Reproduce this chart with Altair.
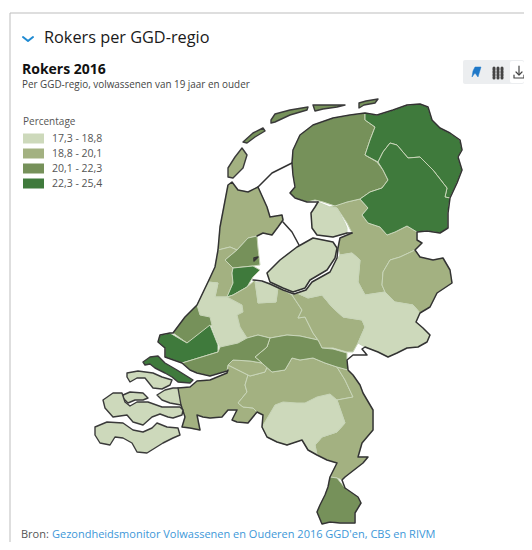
import altair as alt

# Region table: picture-derived outlines, one small list per GGD region
KLASSEN = ["17,3 - 18,8", "18,8 - 20,1", "20,1 - 22,3", "22,3 - 25,4"]
KLEUREN = ["#cdd9bb", "#a3b181", "#76915a", "#3f7a3c"]

friesland = [(292,163),(293,150),(300,135),(313,125),(333,118),(350,115),(365,113),(365,120),(375,127),(370,140),(365,155),(377,162),(383,170),(388,180),(382,188),(370,192),(360,199),(347,202),(335,206),(323,202),(315,200),(307,202),(295,198),(290,193),(295,187),(293,175)]
groningen = [(365,113),(377,115),(393,110),(407,105),(420,104),(428,107),(432,120),(440,128),(450,133),(460,140),(462,150),(458,157),(462,170),(457,183),(450,198),(445,197),(447,188),(433,170),(420,157),(408,158),(397,145),(390,143),(383,152),(378,162),(365,155),(370,140),(375,127),(365,120)]
drenthe = [(378,162),(383,152),(390,143),(397,145),(408,158),(420,157),(433,170),(447,188),(445,197),(450,198),(448,213),(448,228),(440,233),(427,231),(417,232),(407,226),(395,232),(387,235),(380,227),(368,223),(362,215),(368,208),(360,199),(370,192),(382,188),(388,180),(383,170)]
ijsselland = [(330,207),(347,202),(360,199),(368,208),(362,215),(368,223),(380,227),(387,235),(395,232),(407,226),(417,232),(417,240),(422,243),(415,250),(400,257),(390,260),(383,272),(382,285),(385,292),(365,295),(358,282),(360,260),(352,253),(340,255),(338,248),(340,238),(352,233),(347,223),(337,208)]
twente = [(415,250),(420,257),(433,260),(443,258),(450,270),(452,283),(437,293),(430,307),(420,313),(413,305),(395,302),(385,292),(382,285),(383,272),(390,260),(400,257)]
noordoostpolder = [(318,202),(330,207),(337,208),(345,223),(347,228),(347,233),(333,237),(317,235),(312,228),(311,213),(315,207)]
flevoland = [(267,273),(280,260),(297,247),(313,238),(333,242),(337,248),(335,258),(327,270),(310,280),(305,288),(293,292),(283,288),(270,282)]
veluwe = [(338,258),(340,255),(352,253),(360,260),(358,282),(365,295),(385,292),(395,302),(413,305),(420,313),(416,322),(423,328),(430,335),(427,342),(418,347),(407,348),(397,353),(388,357),(378,352),(365,347),(358,343),(365,327),(362,320),(343,317),(332,307),(322,295),(308,298),(297,293),(306,290),(312,282),(330,272)]
noord_holland = [(232,182),(238,190),(248,192),(258,187),(267,207),(270,217),(282,215),(283,220),(278,227),(272,235),(263,233),(257,236),(248,238),(237,250),(230,247),(218,250),(220,227),(228,185)]
zaanstreek = [(248,238),(257,236),(258,248),(260,265),(253,266),(233,268),(225,260),(237,250)]
amsterdam = [(233,268),(253,266),(260,270),(253,277),(247,287),(233,295),(227,297),(233,283),(232,273)]
kennemerland = [(218,250),(230,247),(237,250),(225,260),(233,268),(232,273),(233,283),(227,297),(215,297),(218,283),(208,282),(215,267)]
hollands_midden = [(208,282),(218,283),(215,297),(227,297),(242,305),(243,312),(237,315),(240,327),(247,338),(238,343),(220,347),(217,340),(212,327),(210,317),(200,315),(197,305)]
haaglanden = [(197,305),(200,315),(210,317),(212,325),(202,333),(187,343),(173,333),(185,317)]
utrecht = [(255,280),(257,295),(258,303),(276,302),(278,287),(292,295),(302,310),(298,318),(305,317),(313,333),(318,340),(300,336),(287,335),(270,338),(258,335),(247,338),(240,327),(237,315),(243,312),(242,305),(227,297),(233,295),(247,287)]
gooi = [(255,282),(268,283),(278,287),(276,302),(258,303),(257,295)]
rivierenland = [(292,295),(297,293),(308,298),(322,295),(332,307),(343,317),(362,320),(365,327),(358,343),(353,352),(347,352),(333,348),(322,348),(318,340),(313,333),(305,317),(298,318),(302,310)]
gelderland_zuid = [(270,338),(287,335),(300,336),(318,340),(322,348),(333,349),(347,353),(347,360),(348,370),(337,367),(325,363),(313,358),(300,360),(292,358),(285,370),(272,372),(255,357),(267,347)]
rotterdam = [(160,335),(170,333),(187,343),(210,325),(218,345),(218,352),(182,363),(165,357),(165,348),(158,342)]
zh_zuid = [(182,363),(218,352),(220,347),(238,343),(247,338),(258,335),(270,338),(267,347),(255,357),(262,363),(250,361),(233,360),(228,365),(227,371),(210,376),(197,373),(190,370)]
west_brabant = [(228,365),(248,375),(245,385),(247,392),(238,403),(243,407),(253,408),(257,412),(248,423),(237,422),(232,420),(237,410),(228,410),(222,417),(210,418),(203,417),(197,415),(200,430),(190,428),(182,427),(185,417),(181,405),(178,388),(190,387),(197,381),(210,380),(227,373)]
hart_noord = [(233,360),(250,361),(262,363),(267,367),(265,372),(250,376),(248,375),(228,365)]
brabant_oost = [(250,376),(265,372),(267,367),(255,357),(272,372),(285,370),(292,358),(300,360),(313,358),(325,363),(337,367),(345,380),(353,397),(337,400),(345,423),(337,432),(322,437),(315,445),(317,455),(308,450),(302,440),(287,445),(277,442),(267,437),(262,427),(263,415),(257,412),(253,408),(243,407),(238,403),(247,392),(245,385),(248,375)]
limburg_noord = [(337,367),(348,370),(353,375),(360,385),(363,393),(373,410),(373,430),(362,443),(358,457),(368,457),(363,463),(345,477),(342,480),(337,478),(330,477),(337,463),(327,460),(317,455),(315,445),(322,437),(337,432),(345,423),(337,400),(353,397),(345,380)]
brabant_zo = [(265,422),(275,405),(283,402),(297,403),(305,403),(317,397),(330,394),(337,400),(345,423),(337,432),(322,437),(315,445),(317,455),(308,450),(302,440),(287,445),(277,442),(267,437),(262,427)]
zuid_limburg = [(330,477),(337,478),(345,488),(358,497),(361,503),(355,513),(355,523),(340,523),(330,522),(322,524),(317,512),(320,505),(325,495),(328,487)]
tholen = [(157,395),(165,390),(173,388),(178,388),(181,405),(170,403),(162,400)]
texel = [(242,148),(247,155),(243,168),(233,178),(228,177),(228,168),(235,157)]
vlieland = [(243,142),(253,133),(263,128),(265,131),(255,137),(247,143)]
terschelling = [(271,120),(275,114),(290,110),(308,107),(307,110),(290,115),(275,122),(271,123)]
ameland = [(313,105),(323,105),(345,105),(337,107),(323,109),(315,111)]
schiermonnikoog = [(359,103),(366,101),(378,99),(375,103),(364,105),(359,108)]
goeree = [(143,362),(150,357),(158,356),(165,363),(177,370),(185,375),(193,380),(190,383),(178,382),(172,377),(165,373),(155,368),(150,364),(145,365)]
schouwen = [(127,373),(138,371),(153,373),(162,377),(172,380),(170,385),(162,389),(153,388),(145,378),(137,378),(130,382),(127,377)]
noord_beveland = [(123,395),(130,392),(143,393),(148,398),(143,400),(135,400),(128,403),(123,398)]
walcheren_beveland = [(103,400),(113,393),(122,393),(125,402),(130,406),(137,402),(148,402),(162,407),(180,407),(183,410),(182,415),(173,418),(168,417),(160,414),(152,417),(143,425),(133,422),(127,415),(113,417),(105,408)]
zeeuws_vlaanderen = [(95,427),(107,422),(123,423),(133,430),(143,432),(152,428),(157,423),(167,427),(178,428),(180,435),(173,438),(163,443),(155,448),(147,453),(137,452),(132,443),(123,438),(115,437),(110,445),(100,443),(95,435)]

REGIOS = [
    ("Noord-Holland Noord", 1, noord_holland), ("Kennemerland", 1, kennemerland),
    ("Zaanstreek-Waterland", 2, zaanstreek), ("Amsterdam", 3, amsterdam),
    ("Hollands Midden", 0, hollands_midden), ("Haaglanden", 2, haaglanden),
    ("Utrecht", 1, utrecht), ("Gooi en Vechtstreek", 0, gooi), ("Rivierenland", 1, rivierenland),
    ("IJsselland", 1, ijsselland), ("Twente", 1, twente), ("Friesland", 2, friesland),
    ("Groningen", 3, groningen), ("Drenthe", 3, drenthe),
    ("Noordoostpolder", 0, noordoostpolder), ("Flevoland", 0, flevoland), ("Veluwe", 0, veluwe),
    ("West-Brabant", 1, west_brabant), ("Brabant-Oost", 1, brabant_oost), ("Hart voor Brabant", 1, hart_noord),
    ("Limburg-Noord", 1, limburg_noord), ("Brabant-Zuidoost", 0, brabant_zo),
    ("Gelderland-Zuid", 2, gelderland_zuid), ("Rotterdam-Rijnmond", 3, rotterdam), ("Zuid-Holland Zuid", 2, zh_zuid),
    ("Zuid-Limburg", 2, zuid_limburg),
]
EILANDEN = [
    ("Tholen", 0, tholen), ("Texel", 1, texel), ("Vlieland", 2, vlieland),
    ("Terschelling", 2, terschelling), ("Ameland", 2, ameland), ("Schiermonnikoog", 2, schiermonnikoog),
    ("Goeree", 3, goeree), ("Schouwen", 0, schouwen), ("Noord-Beveland", 0, noord_beveland),
    ("Walcheren", 0, walcheren_beveland), ("Zeeuws-Vlaanderen", 0, zeeuws_vlaanderen),
]

kust_noord = [(318,202),(307,202),(295,198),(290,193),(295,187),(293,175),(292,163),(293,150),(300,135),(313,125),(333,118),(350,115),(365,113),(377,115),(393,110),(407,105),(420,104),(428,107),(432,120),(440,128),(450,133),(460,140),(462,150),(458,157),(462,170),(457,183),(450,198),(448,213),(448,228),(440,233),(427,231),(417,232),(417,240),(422,243),(415,250),(420,257),(433,260),(443,258),(450,270),(452,283),(437,293),(430,307),(420,313),(416,322),(423,328),(430,335),(427,342),(418,347),(407,348),(397,353),(388,357),(378,352),(365,347),(362,349),(367,355),(353,355),(347,360),(348,370),(353,375),(360,385),(363,393),(373,410),(373,430),(362,443),(358,457),(368,457),(363,463),(345,477),(342,480),(345,488),(358,497),(361,503),(355,513),(355,523),(340,523),(330,522),(322,524),(317,512),(320,505),(325,495),(328,487),(330,477),(337,463),(327,460),(317,455),(308,450),(302,440),(287,445),(277,442),(267,437),(262,427),(263,415),(257,412),(248,423),(237,422),(232,420),(237,410),(228,410),(222,417),(210,418),(203,417),(197,415),(200,430),(190,428),(182,427),(185,417),(181,405)]
kust_diep = [(178,388),(190,387),(197,381),(210,380),(227,373),(228,370),(227,371),(210,376),(197,373),(190,370),(182,363),(165,357),(165,348),(158,342),(160,335),(170,333),(173,333),(185,317),(197,305),(208,282),(215,267),(218,250),(220,227),(228,185),(232,182),(238,190),(248,192),(258,187),(267,207),(270,217),(282,215),(283,220),(278,227),(272,235),(263,233),(257,236)]
afsluitdijk = [(258,187),(272,173),(292,163)]
houtribdijk = [(283,222),(292,232),(299,245)]
polder_rand = [(318,202),(315,207),(311,213),(312,228),(317,235),(333,237),(347,233),(352,233)]
oever = [(352,233),(340,238),(338,248),(337,258),(330,272),(312,282),(306,290),(294,294),(283,290),(270,284),(262,281),(253,280)]
marken = [(254,258),(258,257),(254,261),(254,258)]
KUSTLIJNEN = [kust_noord, kust_diep, afsluitdijk, houtribdijk, polder_rand, oever, marken, flevoland + flevoland[:1]]

chevron = [(23,37),(28,41),(33,37)]
pin = [(475,67),(481,67),(478,77),(475,73),(472,77),(473,71)]
tabel_kolommen = [[(494,68),(494,78)], [(498,68),(498,78)], [(502,68),(502,78)]]
download = [(516,72),(519,75),(522,72)]
download_steel = [(519,66),(519,74)]
download_bak = [(514,75),(514,78),(524,78),(524,75)]
kader = [(10,542),(10,13),(524,13)]

def ring(p):
    return [[x, y] for x, y in p] + [[p[0][0], p[0][1]]]

def vlak(naam, k, p):
    return {"type": "Feature", "properties": {"regio": naam, "klasse": KLASSEN[k]},
            "geometry": {"type": "Polygon", "coordinates": [ring(p)]}}

def lijn(p):
    return {"type": "Feature", "properties": {},
            "geometry": {"type": "LineString", "coordinates": [[x, y] for x, y in p]}}

def col(features):
    return alt.Data(values=features)

proj = dict(type="identity", scale=1, translate=[-8, -8])

def lijnen(lijst, kleur, breedte, **kw):
    return alt.Chart(col([lijn(p) for p in lijst])).mark_geoshape(
        filled=False, stroke=kleur, strokeWidth=breedte, strokeJoin="round", strokeCap="round", **kw
    ).project(**proj)

kleurschaal = alt.Scale(domain=KLASSEN, range=KLEUREN)
legenda = alt.Legend(
    orient="none", legendX=15, legendY=109, title="Percentage", titleFont="Open Sans",
    titleFontSize=10, titleFontWeight="normal", titleColor="#555", titlePadding=4,
    labelFont="Open Sans", labelFontSize=10.5, labelColor="#555", labelOffset=9,
    symbolType="M-1.1,-0.5H1.1V0.5H-1.1Z", symbolSize=400, symbolStrokeWidth=0, symbolOpacity=1,
    rowPadding=0, clipHeight=15, values=KLASSEN,
)

kleurvlak = alt.Chart(col([vlak(*r) for r in REGIOS])).mark_geoshape(
    stroke="#c8d5b8", strokeWidth=1
).encode(
    color=alt.Color("properties.klasse:N", scale=kleurschaal, legend=legenda)
).project(**proj)

eilanden = alt.Chart(col([vlak(*r) for r in EILANDEN])).mark_geoshape(
    stroke="#3a3a3a", strokeWidth=1.4, strokeJoin="round"
).encode(
    color=alt.Color("properties.klasse:N", scale=kleurschaal, legend=None)
).project(**proj)

def tekst(s, x, y, kleur, grootte, gewicht="normal"):
    return alt.Chart(alt.Data(values=[{"t": s}])).mark_text(
        align="left", baseline="middle", font="Open Sans", fontSize=grootte,
        fontWeight=gewicht, color=kleur
    ).encode(x=alt.value(x - 8), y=alt.value(y - 8), text="t:N")

def blok(x1, y1, x2, y2, kleur):
    return alt.Chart(alt.Data(values=[{"b": 1}])).mark_rect(color=kleur, cornerRadius=2).encode(
        x=alt.value(x1 - 8), x2=alt.value(x2 - 8), y=alt.value(y1 - 8), y2=alt.value(y2 - 8))

lagen = [
    lijnen([kader], "#bdbdbd", 1),
    blok(463, 60, 524, 84, "#eceef0"),
    blok(510, 61, 524, 83, "#ffffff"),
    kleurvlak,
    lijnen(KUSTLIJNEN, "#333333", 1.5),
    eilanden,
    lijnen([chevron], "#1f8ad2", 2),
    alt.Chart(col([vlak("pin", 0, pin)])).mark_geoshape(fill="#1f78c8", stroke="#1f78c8", strokeWidth=0.5).project(**proj),
    lijnen(tabel_kolommen, "#444444", 3, strokeDash=[2, 1]),
    lijnen([download, download_steel, download_bak], "#444444", 1.2),
    tekst("Rokers per GGD-regio", 44, 38, "#1a1a1a", 16.3, 500),
    tekst("Rokers 2016", 22, 70, "#111111", 14, "bold"),
    tekst("Per GGD-regio, volwassenen van 19 jaar en ouder", 22, 85, "#444444", 9.9),
    tekst("Bron:", 21, 535, "#555555", 11),
    tekst("Gezondheidsmonitor Volwassenen en Ouderen 2016 GGD'en, CBS en RIVM", 52, 535, "#3d97d8", 11),
]

chart = alt.layer(*lagen).properties(
    width=516, height=534, padding=0, autosize=alt.AutoSizeParams(type="none")
).configure_view(stroke=None)

chart.save("out.html", embed_options={"renderer": "svg", "actions": False})
